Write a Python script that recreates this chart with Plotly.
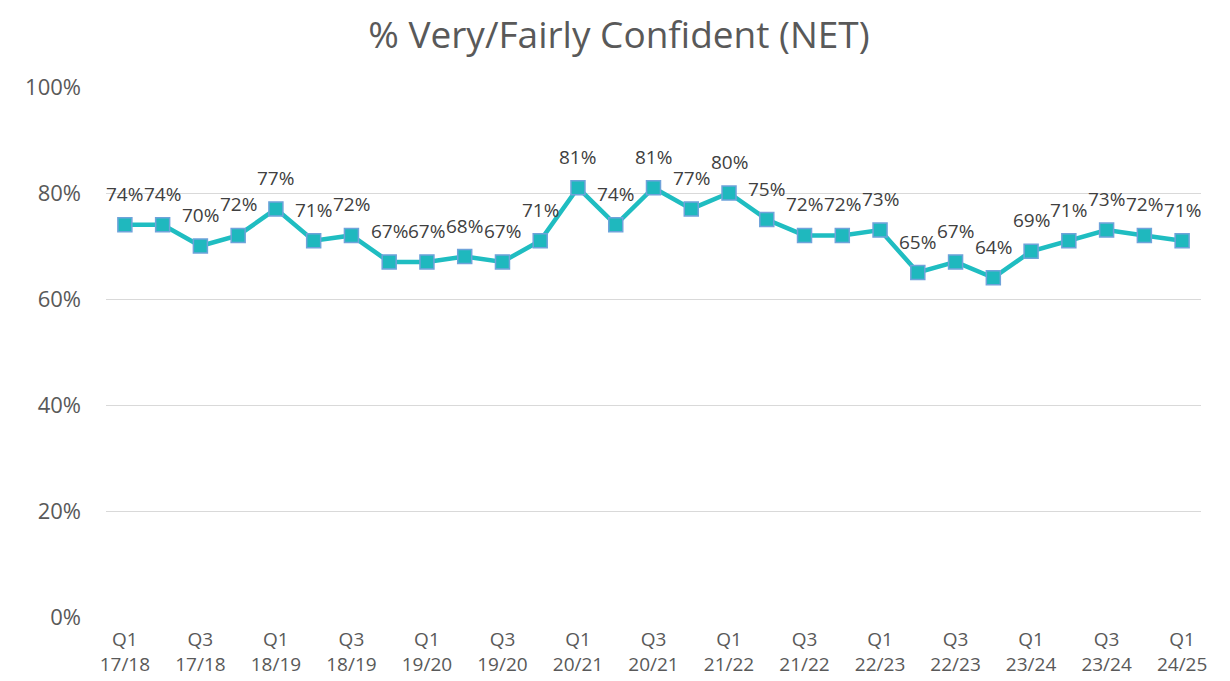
import plotly.graph_objects as go

quarters = ["Q1 17/18","Q2 17/18","Q3 17/18","Q4 17/18",
            "Q1 18/19","Q2 18/19","Q3 18/19","Q4 18/19",
            "Q1 19/20","Q2 19/20","Q3 19/20","Q4 19/20",
            "Q1 20/21","Q2 20/21","Q3 20/21","Q4 20/21",
            "Q1 21/22","Q2 21/22","Q3 21/22","Q4 21/22",
            "Q1 22/23","Q2 22/23","Q3 22/23","Q4 22/23",
            "Q1 23/24","Q2 23/24","Q3 23/24","Q4 23/24",
            "Q1 24/25"]
values = [74, 74, 70, 72, 77, 71, 72, 67, 67, 68, 67, 71, 81, 74, 81, 77,
          80, 75, 72, 72, 73, 65, 67, 64, 69, 71, 73, 72, 71]
y_ticks = [0, 20, 40, 60, 80, 100]

x_idx = list(range(len(quarters)))
tick_vals = x_idx[::2]
tick_text = [quarters[i].replace(" ", "<br>") for i in tick_vals]

FONT = "Open Sans"
fig = go.Figure()
fig.add_trace(go.Scatter(
    x=x_idx, y=values, mode="lines+markers",
    line=dict(color="#1FBDC1", width=4.5),
    marker=dict(symbol="square", size=14, color="#1FB8BE",
                line=dict(color="#6FA3DA", width=1.5)),
    hoverinfo="skip", showlegend=False,
))
for i, v in zip(x_idx, values):
    fig.add_annotation(x=i, y=v, text=f"{v}%", showarrow=False, yshift=31,
                       font=dict(family=FONT, size=19, color="#404040"))

fig.update_layout(
    width=1230, height=681,
    paper_bgcolor="white", plot_bgcolor="white",
    margin=dict(l=98, r=37, t=79, b=72),
    title=dict(text="% Very/Fairly Confident (NET)", x=0.4967, xanchor="center",
               y=0.961, yanchor="middle",
               font=dict(family=FONT, size=37, color="#595959")),
    xaxis=dict(range=[-0.5, len(quarters) - 0.5], tickmode="array",
               tickvals=tick_vals, ticktext=tick_text, showgrid=False,
               zeroline=False, showline=False, ticks="", automargin=False,
               ticklabelstandoff=9,
               tickfont=dict(family=FONT, size=19, color="#595959")),
    yaxis=dict(range=[0, 100], tickmode="array", tickvals=y_ticks,
               ticktext=[f"{t}%" for t in y_ticks],
               showgrid=True, gridcolor="#D9D9D9", gridwidth=1.3,
               zeroline=False, showline=False, ticks="", automargin=False,
               ticklabelstandoff=24,
               tickfont=dict(family=FONT, size=22, color="#595959")),
)
fig.write_html("out.html")
